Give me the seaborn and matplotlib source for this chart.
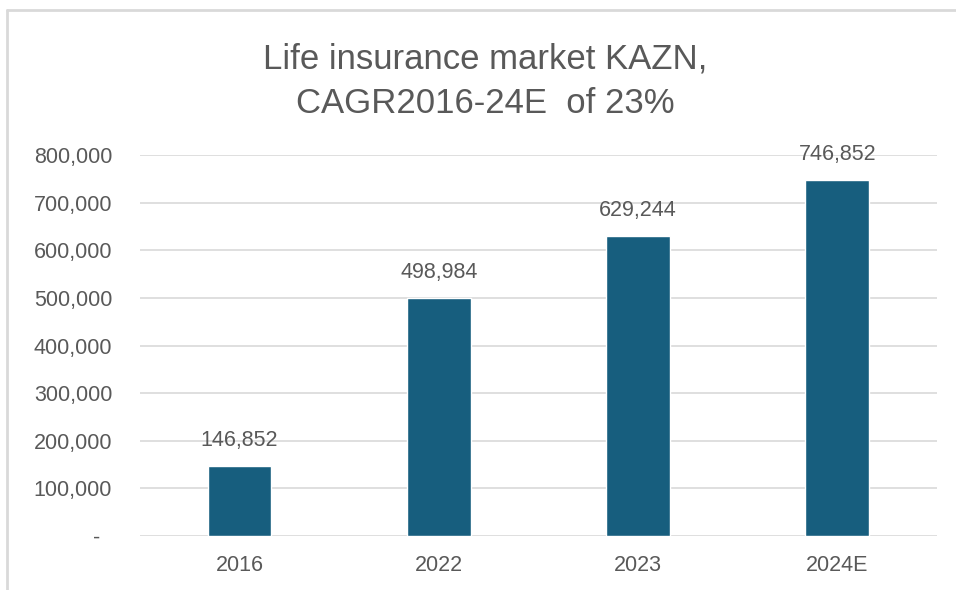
import matplotlib
matplotlib.use("Agg")
import matplotlib.pyplot as plt
import matplotlib.lines as mlines
import seaborn as sns
import pandas as pd

years = ["2016", "2022", "2023", "2024E"]
premiums = [146852, 498984, 629244, 746852]
y_ticks = [0, 100000, 200000, 300000, 400000, 500000, 600000, 700000, 800000]
y_tick_labels = ["-  "] + [f"{v:,}" for v in y_ticks[1:]]

df = pd.DataFrame({"year": years, "value": premiums})

sns.set_style("white")
plt.rcParams["font.family"] = ["Liberation Sans", "DejaVu Sans"]

grey = "#595959"
bar_color = "#175E7E"

fig = plt.figure(figsize=(9.56, 5.90), dpi=100)
ax = fig.add_axes([0.1464, 0.0915, 0.8337, 0.6455])

sns.barplot(data=df, x="year", y="value", color=bar_color, width=0.32,
            saturation=1, ax=ax, zorder=3)

ax.set_ylim(0, 800000)
ax.set_yticks(y_ticks)
ax.set_yticklabels(y_tick_labels)
ax.set_xlim(-0.5, len(years) - 0.5)
ax.grid(axis="y", color="#d9d9d9", linewidth=1.2, zorder=0)
ax.set_axisbelow(True)
for s in ax.spines.values():
    s.set_visible(False)
ax.tick_params(axis="both", length=0, colors=grey, labelsize=15.5)
ax.tick_params(axis="y", pad=20)
ax.tick_params(axis="x", pad=14)
ax.set_xlabel("")
ax.set_ylabel("")

for i, v in enumerate(premiums):
    ax.annotate(f"{v:,}", (i, v), xytext=(0, 11), textcoords="offset points",
                ha="center", va="bottom", fontsize=15.5, color=grey, zorder=4)

fig.text(0.508, 0.862, "Life insurance market KAZN,\nCAGR2016-24E  of 23%",
         ha="center", va="center", fontsize=25, color=grey, linespacing=1.42)

# chart frame (Excel-like border, cut at right/bottom)
fig.add_artist(mlines.Line2D([0.0068, 0.0068], [0, 0.983], color="#d9d9d9", lw=2,
                             transform=fig.transFigure))
fig.add_artist(mlines.Line2D([0.0068, 1], [0.983, 0.983], color="#d9d9d9", lw=2,
                             transform=fig.transFigure))

fig.savefig("out.png", dpi=100)
